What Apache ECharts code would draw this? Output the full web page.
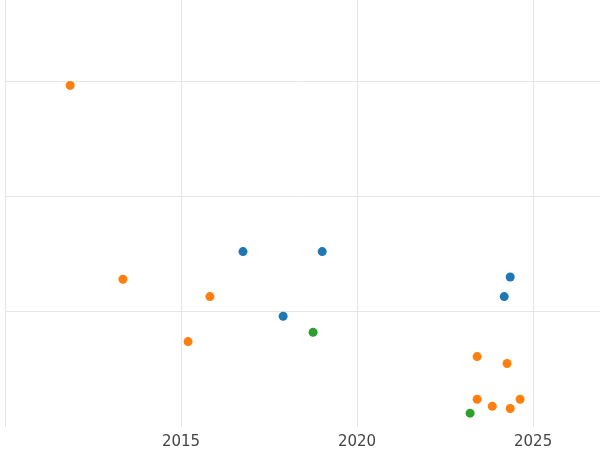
<!DOCTYPE html>
<html>
<head>
<meta charset="utf-8">
<script src="https://cdn.jsdelivr.net/npm/echarts@6/dist/echarts.min.js"></script>
<style>html,body{margin:0;padding:0;background:#fff}#chart{width:600px;height:450px}</style>
</head>
<body>
<div id="chart"></div>
<script>
// [year, value]
const orangePoints = [
  [2011.85, 2.96], [2013.35, 1.28], [2015.82, 1.13], [2015.20, 0.74],
  [2023.41, 0.61], [2024.26, 0.55], [2023.41, 0.24], [2023.84, 0.18],
  [2024.35, 0.16], [2024.63, 0.24]
];
const bluePoints = [
  [2016.76, 1.52], [2019.01, 1.52], [2017.90, 0.96], [2024.35, 1.30], [2024.18, 1.13]
];
const greenPoints = [
  [2018.75, 0.82], [2023.21, 0.12]
];

const chart = echarts.init(document.getElementById('chart'));
const dot = (name, color, data) => ({
  name, type: 'scatter', data, symbolSize: 9,
  itemStyle: { color, opacity: 1 }
});
chart.setOption({
  animation: false,
  textStyle: { fontFamily: 'DejaVu Sans' },
  grid: { left: 5, right: 0, top: 0, bottom: 23 },
  xAxis: {
    type: 'value', min: 2010, max: 2026.9, interval: 5,
    axisLine: { show: false }, axisTick: { show: false },
    axisLabel: { showMinLabel: false, showMaxLabel: false, color: '#444', fontSize: 15, margin: 8,
      fontFamily: 'DejaVu Sans', formatter: v => String(v) },
    splitLine: { showMaxLine: false, lineStyle: { color: '#e5e5e5' } }
  },
  yAxis: {
    type: 'value', min: 0, max: 3.7, interval: 1,
    axisLine: { show: false }, axisTick: { show: false },
    axisLabel: { show: false },
    splitLine: { showMinLine: false, showMaxLine: false, lineStyle: { color: '#e5e5e5' } }
  },
  series: [
    dot('orange', '#ff7f0e', orangePoints),
    dot('blue', '#1f77b4', bluePoints),
    dot('green', '#2ca02c', greenPoints)
  ]
});
</script>
</body>
</html>
